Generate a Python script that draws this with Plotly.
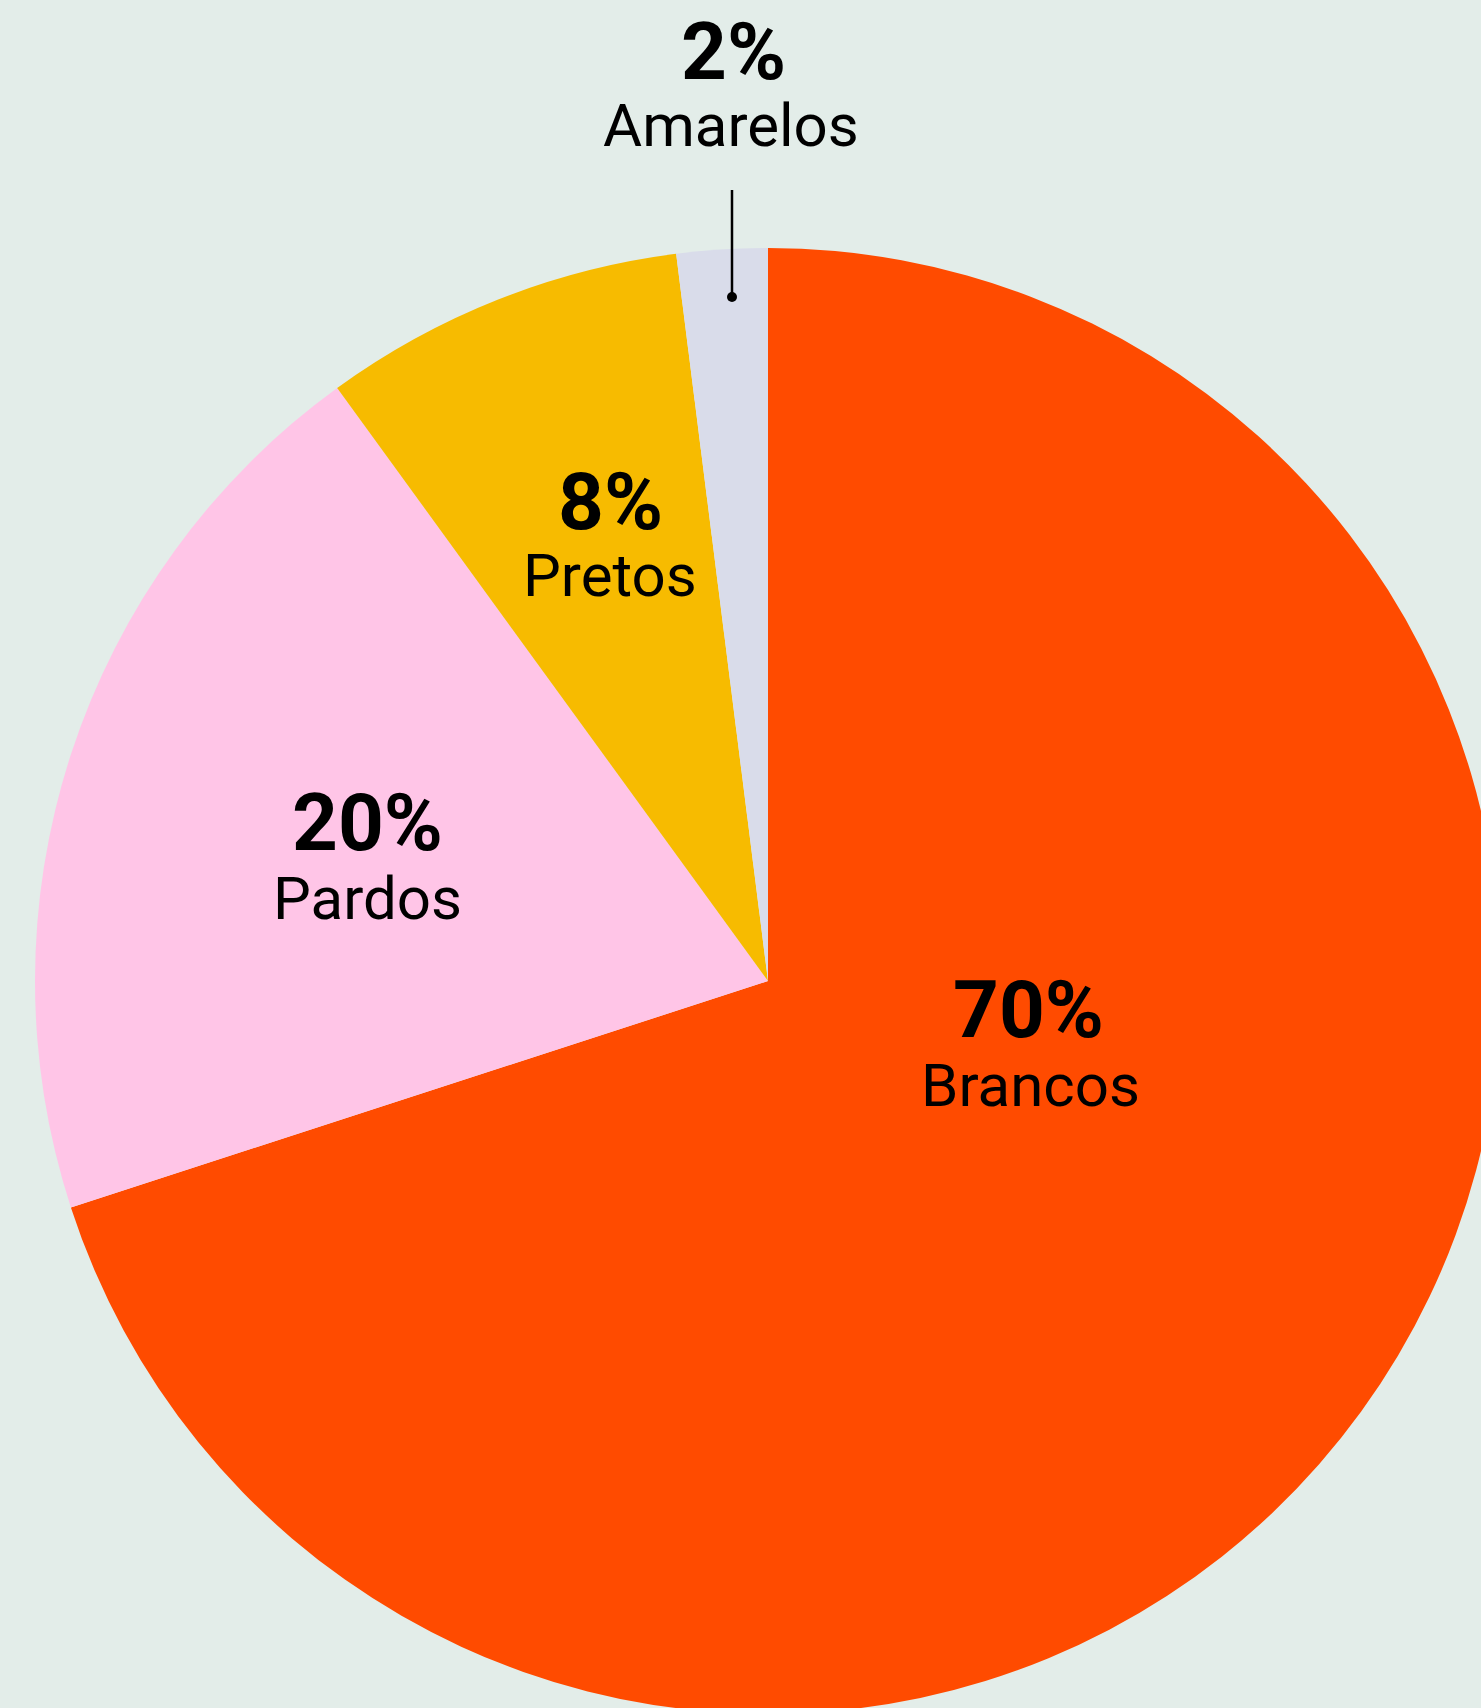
import plotly.graph_objects as go

# Data
categories = ["Brancos", "Pardos", "Pretos", "Amarelos"]
values = [70, 20, 8, 2]
pct_labels = ["70%", "20%", "8%", "2%"]
colors = ["#FF4B00", "#FFC5E7", "#F7BB00", "#D9DCEA"]

BG = "#E3EDE9"
W, H = 1502, 1714  # page slightly larger than the viewport: pie is cropped at right/bottom

# pie box in pixels (left, top, size)
left, top, size = 35, 248, 1466

fig = go.Figure(go.Pie(
    labels=categories,
    values=values,
    sort=False,
    direction="clockwise",
    rotation=0,
    marker=dict(colors=colors, line=dict(width=0)),
    textinfo="none",
    hoverinfo="label+percent",
    showlegend=False,
    domain=dict(x=[left / W, (left + size) / W], y=[1 - (top + size) / H, 1 - top / H]),
))

def px(x):
    return x / W

def py(y):
    return 1 - y / H

# label positions (pixel centers) for each category
label_pos = {
    "Brancos": ((1028, 1010), (1030, 1085)),
    "Pardos": ((367, 823), (367, 898)),
    "Pretos": ((610, 502), (610, 575)),
    "Amarelos": ((733, 52), (731, 126)),
}

annotations = []
for cat, pct in zip(categories, pct_labels):
    (x1, y1), (x2, y2) = label_pos[cat]
    annotations.append(dict(
        x=px(x1), y=py(y1), xref="paper", yref="paper",
        text=f"<b>{pct}</b>", showarrow=False,
        xanchor="center", yanchor="middle",
        font=dict(family="Roboto", size=80, color="#000000"),
    ))
    annotations.append(dict(
        x=px(x2), y=py(y2), xref="paper", yref="paper",
        text=cat, showarrow=False,
        xanchor="center", yanchor="middle",
        font=dict(family="Roboto", size=60, color="#000000"),
    ))

shapes = [
    dict(type="line", xref="paper", yref="paper",
         x0=px(732), x1=px(732), y0=py(190), y1=py(297),
         line=dict(color="#000000", width=2.5)),
    dict(type="circle", xref="paper", yref="paper",
         x0=px(727), x1=px(737), y0=py(292), y1=py(302),
         fillcolor="#000000", line=dict(color="#000000", width=0)),
]

fig.update_layout(
    width=W, height=H,
    margin=dict(l=0, r=0, t=0, b=0, pad=0),
    paper_bgcolor=BG, plot_bgcolor=BG,
    annotations=annotations,
    shapes=shapes,
    font=dict(family="Roboto"),
)

fig.write_html(
    "out.html",
    config={"displayModeBar": False},
    post_script=(
        "document.documentElement.style.overflow='hidden';"
        "document.body.style.overflow='hidden';"
        "document.body.style.margin='0';"
        "document.body.style.background='" + BG + "';"
    ),
)
